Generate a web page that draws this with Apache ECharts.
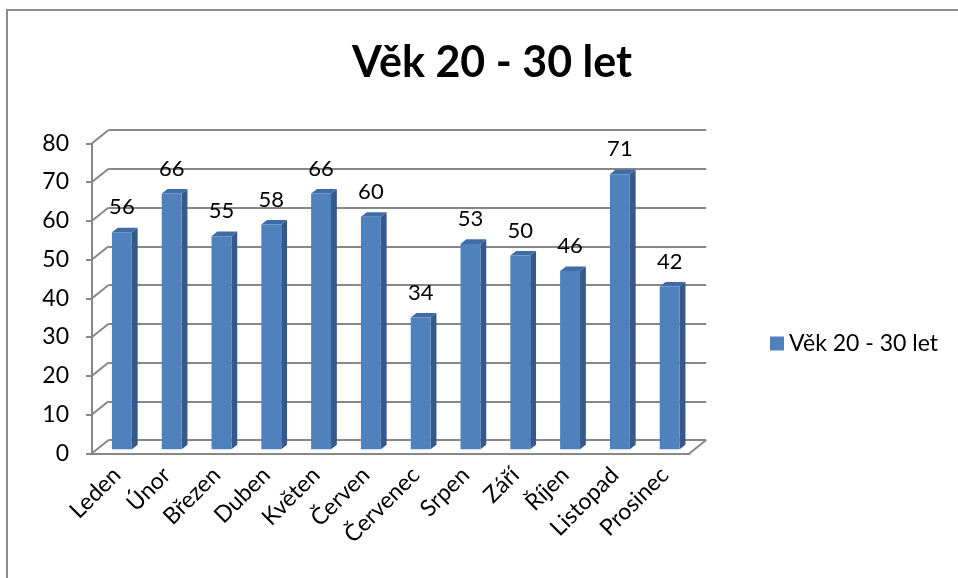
<!DOCTYPE html>
<html>
<head>
<meta charset="utf-8">
<script src="https://cdn.jsdelivr.net/npm/echarts@6/dist/echarts.min.js"></script>
<style>
  html, body { margin: 0; padding: 0; background: #fff; }
  #chart { width: 958px; height: 578px; }
</style>
</head>
<body>
<div id="chart"></div>
<script>
const seriesName = 'Věk 20 - 30 let';
const categories = ['Leden', 'Únor', 'Březen', 'Duben', 'Květen', 'Červen', 'Červenec', 'Srpen', 'Září', 'Říjen', 'Listopad', 'Prosinec'];
const values = [56, 66, 55, 58, 66, 60, 34, 53, 50, 46, 71, 42];
const wallTicks = [0, 10, 20, 30, 40, 50, 60, 70, 80];

// 3D look: depth offset of the back wall and where the bars sit inside it
const DX = 16.6;
const DY = -13.3;
const FRONT = 0.3;
const BACK = 0.65;
const FONT = 'Lato, "Open Sans", sans-serif';
const GRID_GRAY = '#878787';

const chart = echarts.init(document.getElementById('chart'));

function renderBar(params, api) {
  const idx = api.value(0);
  const top = api.coord([idx, api.value(1)]);
  const base = api.coord([idx, 0]);
  const band = api.size([1, 0])[0];
  const w = band * 0.4;
  const fx = FRONT * DX;
  const fy = FRONT * DY;
  const ddx = (BACK - FRONT) * DX;
  const ddy = (BACK - FRONT) * DY;
  const x0 = top[0] - w / 2 + fx;
  const x1 = x0 + w;
  const yt = top[1] + fy;
  const yb = base[1] + fy;
  return {
    type: 'group',
    children: [
      {
        type: 'polygon',
        shape: { points: [[x1, yt], [x1 + ddx, yt + ddy], [x1 + ddx, yb + ddy], [x1, yb]] },
        style: { fill: '#35598a' }
      },
      {
        type: 'polygon',
        shape: { points: [[x0, yt], [x1, yt], [x1 + ddx, yt + ddy], [x0 + ddx, yt + ddy]] },
        style: { fill: '#3f6ca6' }
      },
      {
        type: 'rect',
        shape: { x: x0, y: yt, width: w, height: yb - yt },
        style: { fill: '#4f81bd' }
      },
      {
        type: 'text',
        style: {
          text: String(api.value(1)),
          x: x0 + w / 2,
          y: yt - 14,
          textAlign: 'center',
          textVerticalAlign: 'bottom',
          font: '22px ' + FONT,
          fill: '#000'
        }
      }
    ]
  };
}

function renderWall(params, api) {
  const cs = params.coordSys;
  const y = api.coord([0, api.value(1)])[1];
  const lineStyle = { stroke: GRID_GRAY, lineWidth: 2 };
  const children = [{
    type: 'line',
    shape: { x1: cs.x, y1: y, x2: cs.x + DX, y2: y + DY },
    style: lineStyle
  }];
  if (api.value(1) === 0) {
    children.push({
      type: 'line',
      shape: { x1: cs.x + cs.width, y1: y, x2: cs.x + cs.width + DX, y2: y + DY },
      style: lineStyle
    });
  }
  return { type: 'group', children };
}

chart.setOption({
  animation: false,
  backgroundColor: '#fff',
  title: {
    text: seriesName,
    left: 487,
    top: 37,
    textAlign: 'center',
    textStyle: { fontFamily: FONT, fontSize: 43, fontWeight: 'bold', color: '#000' }
  },
  legend: {
    data: [seriesName],
    left: 765,
    top: 327,
    icon: 'rect',
    itemWidth: 14,
    itemHeight: 14,
    itemGap: 8,
    textStyle: { fontFamily: FONT, fontSize: 23, color: '#000' }
  },
  graphic: [{
    type: 'rect',
    shape: { x: 7, y: 10, width: 1200, height: 1200 },
    style: { fill: 'none', stroke: '#8c8c8c', lineWidth: 2 },
    silent: true,
    z: -10
  }],
  grid: [
    { left: 108.6, top: 130, width: 597.6, height: 310 },
    { left: 92, top: 143.3, width: 597.6, height: 310 }
  ],
  xAxis: [
    {
      gridIndex: 0,
      type: 'category',
      data: categories,
      show: false
    },
    {
      gridIndex: 1,
      type: 'category',
      data: categories,
      axisLine: { lineStyle: { color: GRID_GRAY, width: 2 } },
      axisTick: { length: 6, lineStyle: { color: GRID_GRAY, width: 2 } },
      axisLabel: { rotate: 45, margin: 18, fontFamily: FONT, fontSize: 23, color: '#000', interval: 0 }
    }
  ],
  yAxis: [
    {
      gridIndex: 0,
      type: 'value',
      min: 0,
      max: 80,
      interval: 10,
      axisLine: { show: false },
      axisTick: { show: false },
      axisLabel: { show: false },
      splitLine: { lineStyle: { color: GRID_GRAY, width: 2 } }
    },
    {
      gridIndex: 1,
      type: 'value',
      min: 0,
      max: 80,
      interval: 10,
      axisLine: { show: true, lineStyle: { color: GRID_GRAY, width: 2 } },
      axisTick: { show: true, length: 6, lineStyle: { color: GRID_GRAY, width: 2 } },
      axisLabel: { margin: 23, fontFamily: FONT, fontSize: 23, color: '#000' },
      splitLine: { show: false }
    }
  ],
  series: [
    {
      type: 'custom',
      name: 'wall',
      xAxisIndex: 1,
      yAxisIndex: 1,
      renderItem: renderWall,
      data: wallTicks.map(v => [0, v]),
      encode: { x: 0, y: 1 },
      silent: true,
      z: 1
    },
    {
      type: 'custom',
      name: seriesName,
      xAxisIndex: 1,
      yAxisIndex: 1,
      renderItem: renderBar,
      itemStyle: { color: '#4f81bd' },
      data: values.map((v, i) => [i, v]),
      encode: { x: 0, y: 1 },
      z: 5
    }
  ]
});
</script>
</body>
</html>
